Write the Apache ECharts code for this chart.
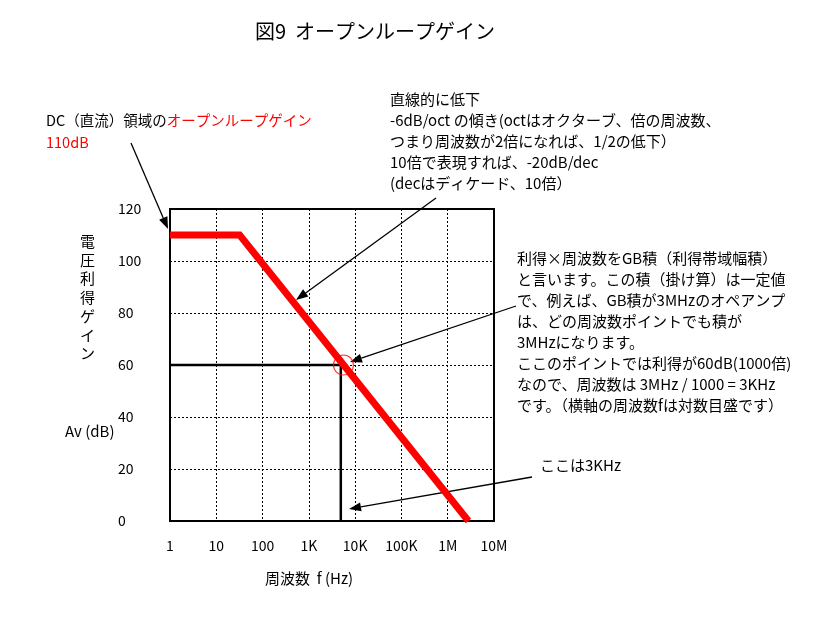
<!DOCTYPE html>
<html><head><meta charset="utf-8">
<script src="https://cdn.jsdelivr.net/npm/echarts@6/dist/echarts.min.js"></script>
<style>html,body{margin:0;padding:0;background:#fff}#c{width:830px;height:625px}</style>
</head><body><div id="c"></div>
<script>
// ---- data ----
const freqTicks = [1, 10, 100, 1e3, 1e4, 1e5, 1e6, 1e7];
const freqLabels = ['1', '10', '100', '1K', '10K', '100K', '1M', '10M'];
const gainTicks = [0, 20, 40, 60, 80, 100, 120];
const openLoopFreq = [1, 32, 2.8e6];
const openLoopGain = [110, 110, 0];
const refFreq = [1, 4900, 4900];
const refGain = [60, 60, 0];
const markFreq = [5600];
const markGain = [60];

const FONT = '"Noto Sans CJK JP", "Noto Sans", sans-serif';
const chart = echarts.init(document.getElementById('c'));

function zip(a, b) { return a.map((v, i) => [v, b[i]]); }

function arrow(x1, y1, x2, y2) {
  const a = Math.atan2(y2 - y1, x2 - x1), L = 12, W = 4.5;
  const c = Math.cos(a), s = Math.sin(a);
  const bx = x2 - L * c, by = y2 - L * s;
  return [
    { type: 'line', silent: true, shape: { x1: x1, y1: y1, x2: bx, y2: by }, style: { stroke: '#000', lineWidth: 1.3 } },
    { type: 'polygon', silent: true, shape: { points: [[x2, y2], [bx - W * s, by + W * c], [bx + W * s, by - W * c]] }, style: { fill: '#000' } }
  ];
}

const txt = (x, y, text, extra) => Object.assign({
  type: 'text', left: x, top: y, silent: true,
  style: Object.assign({ text: text, font: '15px ' + FONT, fill: '#000' }, extra || {})
});

const topNote = [
  '直線的に低下',
  '-6dB/oct の傾き(octはオクターブ、倍の周波数、',
  'つまり周波数が2倍になれば、1/2の低下）',
  '10倍で表現すれば、-20dB/dec',
  '(decはディケード、10倍）'
];
const gbNote = [
  '利得×周波数をGB積（利得帯域幅積）',
  'と言います。この積（掛け算）は一定値',
  'で、例えば、GB積が3MHzのオペアンプ',
  'は、どの周波数ポイントでも積が',
  '3MHzになります。',
  'ここのポイントでは利得が60dB(1000倍)',
  'なので、周波数は 3MHz / 1000 = 3KHz',
  'です。（横軸の周波数fは対数目盛です）'
];

const graphics = [].concat(
  [
    txt(255, 21, '図9  オープンループゲイン', { font: '20px ' + FONT }),
    {
      type: 'text', left: 46, top: 109, silent: true,
      style: {
        text: '{k|DC（直流）領域の}{r|オープンループゲイン}\n{r|110dB}',
        font: '14.5px ' + FONT, lineHeight: 22,
        rich: { k: { fill: '#000', font: '14.5px ' + FONT, lineHeight: 22 }, r: { fill: '#ff0000', font: '14.5px ' + FONT, lineHeight: 22 } }
      }
    },
    txt(390, 89, topNote.join('\n'), { lineHeight: 21 }),
    txt(517, 248, gbNote.join('\n'), { lineHeight: 21 }),
    txt(540, 458, 'ここは3KHz'),
    txt(80, 232, '電\n圧\n利\n得\nゲ\nイ\nン', { lineHeight: 18.7 }),
    txt(65, 424, 'Av (dB)'),
    txt(265, 571, '周波数  f (Hz)')
  ],
  arrow(131, 143, 168, 229),
  arrow(436, 198, 296, 300),
  arrow(516, 306, 350, 362),
  arrow(532, 477, 349, 509)
);

chart.setOption({
  animation: false,
  backgroundColor: '#fff',
  grid: { left: 170, top: 209, width: 324, height: 312, show: true, borderColor: '#000', borderWidth: 2, backgroundColor: 'transparent' },
  xAxis: {
    type: 'log', logBase: 10, min: freqTicks[0], max: freqTicks[freqTicks.length - 1],
    axisLine: { show: true, lineStyle: { color: '#000', width: 2 } },
    axisTick: { show: false },
    axisLabel: {
      margin: 18, color: '#000', fontSize: 14, fontFamily: FONT,
      formatter: v => { const i = freqTicks.findIndex(t => Math.abs(Math.log10(t) - Math.log10(v)) < 1e-6); return i >= 0 ? freqLabels[i] : ''; }
    },
    splitLine: { show: true, lineStyle: { color: '#000', type: [2, 2], width: 1 } },
    minorTick: { show: false }
  },
  yAxis: {
    type: 'value', min: gainTicks[0], max: gainTicks[gainTicks.length - 1], interval: 20,
    axisLine: { show: true, lineStyle: { color: '#000', width: 2 } },
    axisTick: { show: false },
    axisLabel: { margin: 52, align: 'left', color: '#000', fontSize: 14, fontFamily: FONT },
    splitLine: { show: true, lineStyle: { color: '#000', type: [2, 2], width: 1 } }
  },
  series: [
    {
      type: 'line', data: zip(refFreq, refGain), symbol: 'none', silent: true,
      lineStyle: { color: '#000', width: 2.5 }, z: 3
    },
    {
      type: 'line', data: zip(openLoopFreq, openLoopGain), symbol: 'none', silent: true,
      lineStyle: { color: '#ff0000', width: 7, cap: 'butt', join: 'miter' }, z: 4
    },
    {
      type: 'scatter', data: zip(markFreq, markGain), symbol: 'circle', symbolSize: 20, silent: true,
      itemStyle: { color: 'rgba(0,0,0,0)', borderColor: '#ff0000', borderWidth: 1.2 }, z: 5
    }
  ],
  graphic: graphics
});
</script></body></html>
